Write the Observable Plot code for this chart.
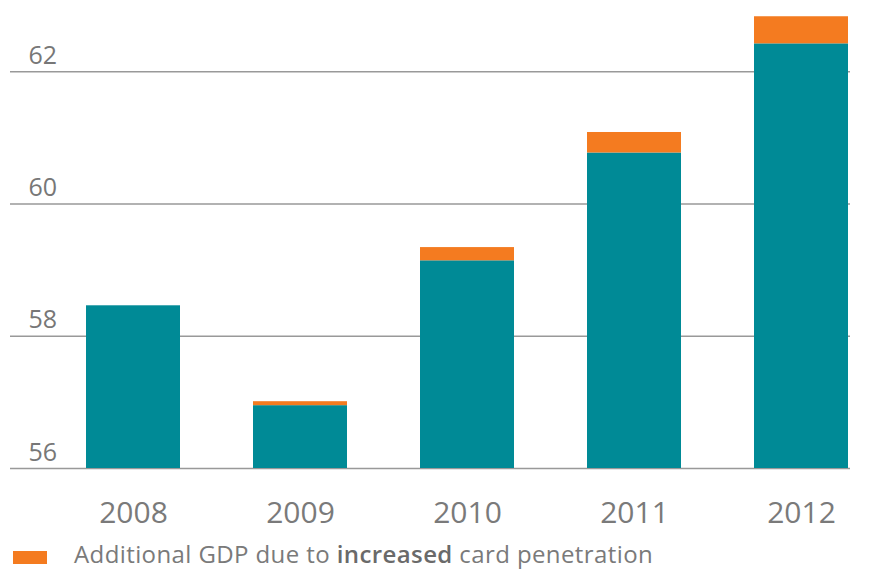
<!DOCTYPE html>
<html>
<head>
<meta charset="utf-8">
<script src="https://cdn.jsdelivr.net/npm/d3@7"></script>
<script src="https://cdn.jsdelivr.net/npm/@observablehq/plot@0.6"></script>
<style>
  html, body { margin: 0; padding: 0; background: #fff; overflow: hidden; }
  #chart { width: 878px; height: 569px; position: relative; font-family: "Open Sans", sans-serif; }
  #legend { position: absolute; left: 0; top: 540px; height: 29px; width: 878px; color: #7a7a7a; font-size: 24px; line-height: 26px; letter-spacing: 0.4px; white-space: nowrap; }
  #legend .sw { position: absolute; left: 13px; top: 11px; width: 34px; height: 13px; background: #F47B20; }
  #legend .tx { position: absolute; left: 74px; top: 1px; }
  #legend b { font-weight: 600; color: #6a6a6a; }
</style>
</head>
<body>
<div id="chart"></div>
<script>
const years = ["2008", "2009", "2010", "2011", "2012"];
const baseGDP = [58.46, 56.95, 59.14, 60.77, 62.42];
const additionalGDP = [0, 0.06, 0.20, 0.31, 0.41];
const yTicks = [56, 58, 60, 62];
const yMin = 56;

const rows = years.map((year, i) => ({
  year,
  base: baseGDP[i],
  total: baseGDP[i] + additionalGDP[i]
}));

const plot = Plot.plot({
  width: 878,
  height: 540,
  marginLeft: 10,
  marginRight: 28,
  marginTop: 5,
  marginBottom: 72,
  style: { fontFamily: "Open Sans, sans-serif", background: "#fff" },
  x: { domain: years, range: [84, 849], paddingInner: 0.44, paddingOuter: 0, axis: null },
  y: { domain: [56, 63], axis: null },
  marks: [
    Plot.ruleY(yTicks, { stroke: "#999", strokeWidth: 1.5 }),
    Plot.barY(rows, { x: "year", y1: yMin, y2: "base", fill: "#008A96" }),
    Plot.barY(rows.filter(d => d.total > d.base), { x: "year", y1: "base", y2: "total", fill: "#F47B20" }),
    Plot.text(yTicks, { y: d => d, text: d => String(d), frameAnchor: "left", textAnchor: "start", lineAnchor: "bottom", dx: 18, dy: -8, fontSize: 25, fontWeight: 500, fill: "#777" }),
    Plot.axisX({ domain: years, tickSize: 0, tickPadding: 0, fontSize: 30, color: "#7a7a7a", label: null, dy: 33 })
  ]
});
plot.style.display = "block";
document.getElementById("chart").appendChild(plot);

const legend = document.createElement("div");
legend.id = "legend";
legend.innerHTML = '<span class="sw"></span><span class="tx">Additional GDP due to <b>increased</b> card penetration</span>';
document.getElementById("chart").appendChild(legend);
</script>
</body>
</html>
